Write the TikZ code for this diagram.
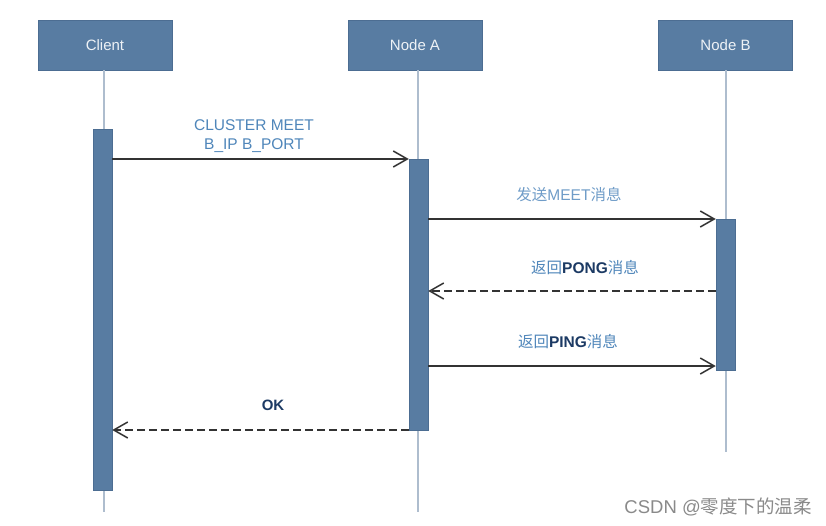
\documentclass[tikz,border=0pt]{standalone}
\usepackage{fontspec}
\setmainfont{Liberation Sans}
\newfontfamily\cjk{Noto Sans CJK SC}
\usetikzlibrary{arrows.meta}
\definecolor{boxblue}{HTML}{587CA2}
\definecolor{boxedge}{HTML}{4C6D92}
\definecolor{lifegray}{HTML}{AEBDCE}
\definecolor{lblblue}{HTML}{4F86BA}
\definecolor{lbllight}{HTML}{6F9CC8}
\definecolor{lbldark}{HTML}{1C3A64}
\definecolor{arrowgray}{HTML}{333333}
\definecolor{wmgray}{HTML}{8A8A8A}
\definecolor{headtext}{HTML}{EEF2F6}
\tikzset{
  head/.style={draw=boxedge, fill=boxblue, line width=0.6pt, minimum width=134pt, minimum height=50pt, inner sep=0pt, text=headtext, font=\fontsize{15pt}{17pt}\selectfont},
  bar/.style={draw=boxedge, fill=boxblue, line width=0.5pt, minimum width=19pt, inner sep=0pt},
  life/.style={draw=lifegray, line width=1.8pt},
  msg/.style={draw=arrowgray, line width=1.5pt, -{Straight Barb[length=14pt,width=16pt,line width=1.5pt]}},
  ret/.style={msg, dash pattern=on 8pt off 4pt},
  lbl/.style={font=\fontsize{15.5pt}{19pt}\selectfont, inner sep=0pt, align=center}
}
\begin{document}
\begin{tikzpicture}[x=1pt,y=-1pt]
\useasboundingbox (0,0) rectangle (826,525);
\fill[white] (0,0) rectangle (826,525);
% lifelines
\coordinate (cl) at (104,512);
\coordinate (al) at (418,512);
\coordinate (bl) at (726,452);
\node[head] (client) at (105,45) {Client};
\node[head] (nodea) at (415,45) {Node A};
\node[head] (nodeb) at (725.5,45) {Node B};
\draw[life] (client.south -| cl) -- (cl);
\draw[life] (nodea.south -| al) -- (al);
\draw[life] (nodeb.south -| bl) -- (bl);
% activation bars
\node[bar, minimum height=361pt] (cbar) at (102.5,309.5) {};
\node[bar, minimum height=271pt] (abar) at (418.5,294.5) {};
\node[bar, minimum height=151pt] (bbar) at (725.5,294.5) {};
% message rows
\coordinate (m1) at (0,159);
\coordinate (m2) at (0,219);
\coordinate (m3) at (0,291);
\coordinate (m4) at (0,366);
\coordinate (m5) at (0,430);
\draw[msg] (cbar.east |- m1) -- (abar.west |- m1);
\draw[msg] (abar.east |- m2) -- (bbar.west |- m2);
\draw[ret] (bbar.west |- m3) -- (abar.east |- m3);
\draw[msg] (abar.east |- m4) -- (bbar.west |- m4);
\draw[ret] (abar.west |- m5) -- (cbar.east |- m5);
% labels
\node[lbl, text=lblblue] (l1) at (254,136) {CLUSTER MEET\\B\_IP B\_PORT};
\node[lbl, text=lbllight] (l2) at (569,195) {{\cjk 发送}MEET{\cjk 消息}};
\node[lbl, text=lblblue] (l3) at (585,268) {{\cjk 返回}{\color{lbldark}\bfseries PONG}{\cjk 消息}};
\node[lbl, text=lblblue] (l4) at (568,342) {{\cjk 返回}{\color{lbldark}\bfseries PING}{\cjk 消息}};
\node[lbl, text=lbldark, font=\fontsize{15pt}{17pt}\selectfont\bfseries] (l5) at (273,405) {OK};
\node[inner sep=0pt, text=wmgray, font=\fontsize{18.5pt}{21pt}\selectfont, anchor=east] (wm) at (812,507) {CSDN @{\cjk 零度下的温柔}};
\end{tikzpicture}
\end{document}
